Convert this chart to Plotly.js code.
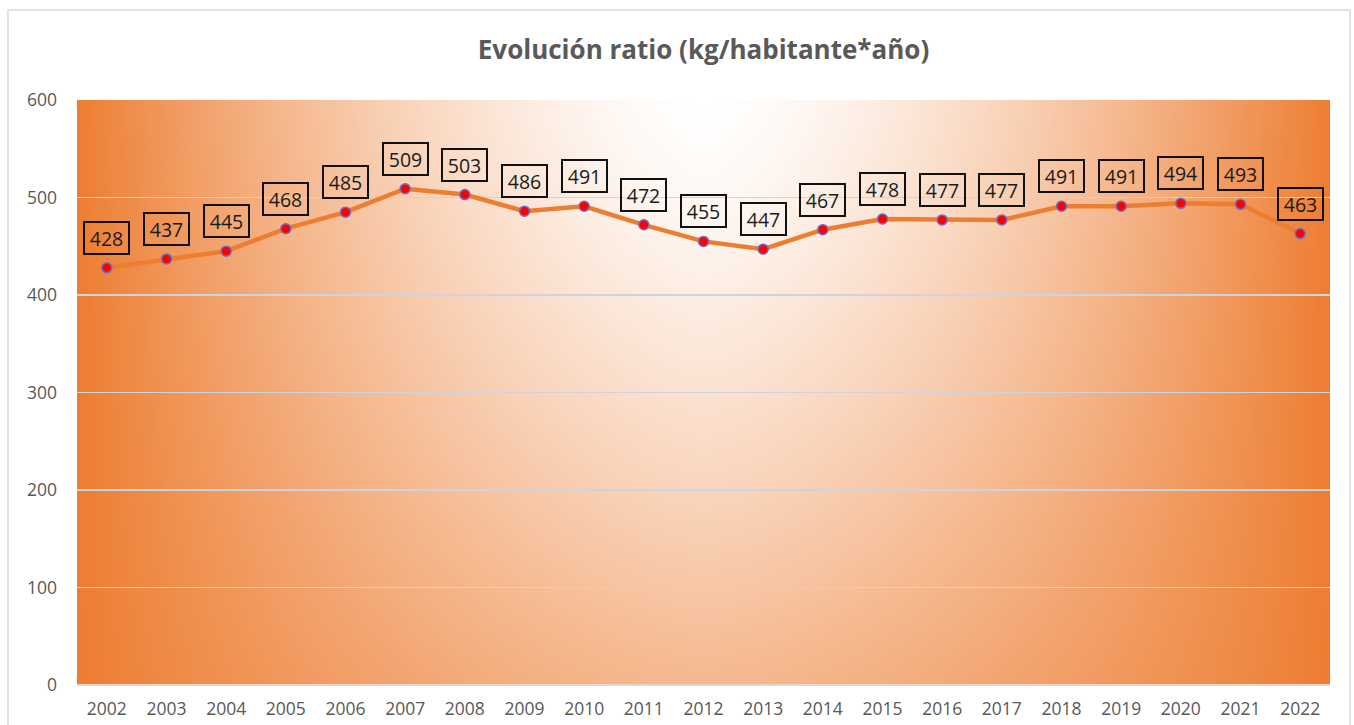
<!DOCTYPE html>
<html>
<head>
<meta charset="utf-8">
<script src="https://cdn.plot.ly/plotly-3.0.1.min.js"></script>
<style>
  html, body { margin: 0; padding: 0; background: #ffffff; }
  #chart { width: 1354px; height: 725px; }
</style>
</head>
<body>
<div id="chart"></div>
<script>
// ---- data ----
const years = ["2002","2003","2004","2005","2006","2007","2008","2009","2010","2011","2012",
               "2013","2014","2015","2016","2017","2018","2019","2020","2021","2022"];
const ratio = [428, 437, 445, 468, 485, 509, 503, 486, 491, 472, 455,
               447, 467, 478, 477, 477, 491, 491, 494, 493, 463];
const titleText = "Evolución ratio (kg/habitante*año)";
const yTicks = [0, 100, 200, 300, 400, 500, 600];

// ---- layout geometry ----
const W = 1354, H = 725;
const M = { l: 77, r: 24, t: 100, b: 40 };
const PW = W - M.l - M.r, PH = H - M.t - M.b;

// gradient background for the plot area (white at top centre, orange towards the edges)
function makeBg() {
  const c = document.createElement('canvas');
  c.width = PW; c.height = PH;
  const ctx = c.getContext('2d');
  const img = ctx.createImageData(PW, PH);
  const d = img.data;
  const edge = [237, 125, 49];
  const cx = PW / 2;
  for (let y = 0; y < PH; y++) {
    const ay = y / PH;
    const h = 0.55 * Math.pow(ay, 1.3);
    for (let x = 0; x < PW; x++) {
      const ax = Math.min(1, Math.abs(x - cx) / cx);
      const g = Math.pow(ax, 1.5);
      const f = 1 - (1 - g) * (1 - h);
      const k = (y * PW + x) * 4;
      d[k]     = Math.round(255 + (edge[0] - 255) * f);
      d[k + 1] = Math.round(255 + (edge[1] - 255) * f);
      d[k + 2] = Math.round(255 + (edge[2] - 255) * f);
      d[k + 3] = 255;
    }
  }
  ctx.putImageData(img, 0, 0);
  return c.toDataURL('image/png');
}

const trace = {
  type: 'scatter',
  mode: 'lines+markers',
  x: years,
  y: ratio,
  line: { color: '#ED7D31', width: 4.5 },
  marker: { color: '#FF0000', size: 10, line: { color: '#6A6FC8', width: 1.5 } },
  hoverinfo: 'skip',
  showlegend: false
};

// category axis: annotation x given as the category's index
const annotations = years.map((yr, i) => ({
  x: i, y: ratio[i], xref: 'x', yref: 'y',
  text: String(ratio[i]),
  showarrow: false,
  yanchor: 'bottom',
  yshift: 13,
  width: 41, height: 28,
  borderpad: 1,
  bordercolor: '#111111',
  borderwidth: 2,
  bgcolor: 'rgba(0,0,0,0)',
  font: { family: 'Open Sans, sans-serif', size: 19.5, color: '#1a1a1a' }
}));

const layout = {
  width: W, height: H,
  margin: M,
  paper_bgcolor: '#ffffff',
  plot_bgcolor: 'rgba(0,0,0,0)',
  title: {
    text: '<b>' + titleText + '</b>',
    x: 0.5, xref: 'paper', xanchor: 'center',
    y: 1 - 50 / H, yref: 'container', yanchor: 'middle',
    font: { family: 'Open Sans, sans-serif', size: 26, color: '#595959' }
  },
  xaxis: {
    type: 'category',
    range: [-0.5, years.length - 0.5],
    showgrid: false, zeroline: false, showline: false,
    ticks: '',
    ticklabelstandoff: 11,
    tickfont: { family: 'Open Sans, sans-serif', size: 17.5, color: '#595959' },
    fixedrange: true
  },
  yaxis: {
    range: [0, 600],
    tickvals: yTicks,
    ticktext: yTicks.map(String),
    showgrid: true, gridcolor: '#CDD3DF', gridwidth: 1.5,
    zeroline: true, zerolinecolor: '#D9D9D9', zerolinewidth: 1.5,
    showline: false, ticks: '',
    ticklabelstandoff: 19,
    tickfont: { family: 'Open Sans, sans-serif', size: 17.5, color: '#595959' },
    fixedrange: true
  },
  images: [{
    source: makeBg(),
    xref: 'paper', yref: 'paper',
    x: 0, y: 1, sizex: 1, sizey: 1,
    xanchor: 'left', yanchor: 'top',
    sizing: 'stretch', layer: 'below'
  }],
  shapes: [{
    type: 'rect', xref: 'paper', yref: 'paper',
    x0: (8 - M.l) / PW, x1: (1350 - M.l) / PW,
    y0: -(M.b + 20) / PH, y1: (PH + M.t - 10) / PH,
    line: { color: '#D9D9D9', width: 1.5 },
    fillcolor: 'rgba(0,0,0,0)',
    layer: 'below'
  }],
  annotations: annotations,
  hovermode: false
};

Plotly.newPlot('chart', [trace], layout, { displayModeBar: false, staticPlot: true });
</script>
</body>
</html>
